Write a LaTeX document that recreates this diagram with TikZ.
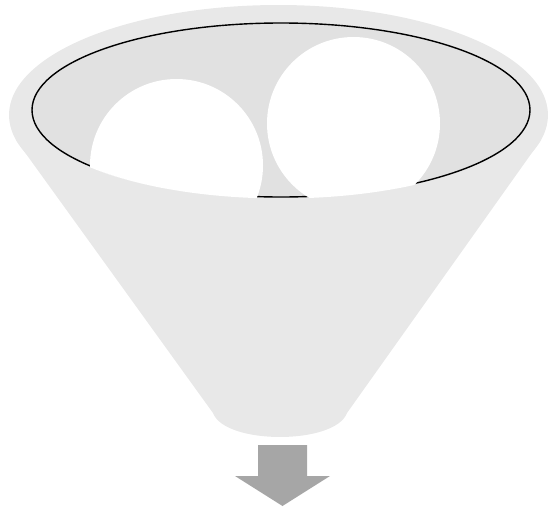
\documentclass[tikz,border=0pt]{standalone}
\begin{document}
\begin{tikzpicture}[x=1pt,y=-1pt]
\definecolor{funnelgray}{HTML}{E8E8E8}
\definecolor{innergray}{HTML}{E1E1E1}
\definecolor{arrowgray}{HTML}{A6A6A6}
\tikzset{rimline/.style={draw=black,line width=1.4pt}}
\useasboundingbox (0,0) rectangle (550,509);
% funnel body
\fill[funnelgray] (278.5,115) ellipse [x radius=269.5, y radius=110];
\fill[funnelgray] (16,140) -- (541,140) -- (347,413)
  .. controls (335,445) and (225,445) .. (213,413) -- cycle;
% opening
\fill[innergray] (281,110) ellipse [x radius=249, y radius=87];
\draw[rimline] (281,110) ellipse [x radius=249, y radius=87];
% balls clipped by opening
\begin{scope}
\clip (281,110) ellipse [x radius=250.5, y radius=88.5];
\fill[white] (176.5,165.5) circle [radius=86.5];
\fill[white] (353.5,123.5) circle [radius=86.5];
\end{scope}
% output arrow
\fill[arrowgray] (258,445) -- (307,445) -- (307,476) -- (330,476) -- (282.5,506) -- (235,476) -- (258,476) -- cycle;
\end{tikzpicture}
\end{document}
